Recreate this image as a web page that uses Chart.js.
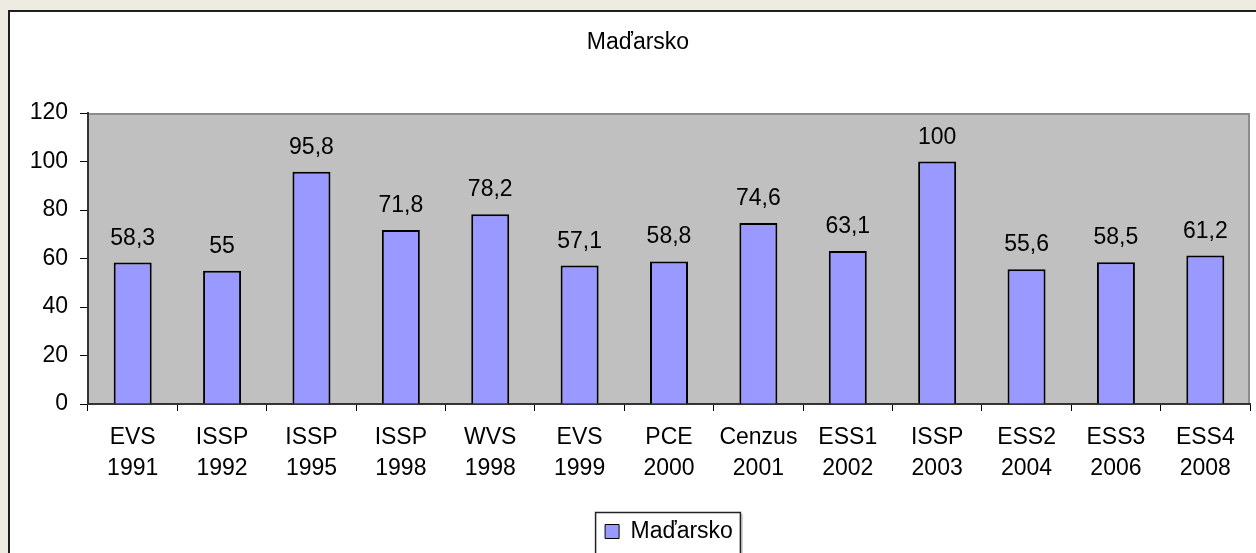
<!DOCTYPE html>
<html>
<head>
<meta charset="utf-8">
<script src="https://cdn.jsdelivr.net/npm/chart.js@4.4.1/dist/chart.umd.min.js"></script>
<style>
  html, body { margin: 0; padding: 0; background: #eeece2; }
  canvas { display: block; }
</style>
</head>
<body>
<canvas id="c" width="1256" height="553"></canvas>
<script>
const chartTitle = "Maďarsko";
const seriesName = "Maďarsko";
const categories = [
  ["EVS", "1991"], ["ISSP", "1992"], ["ISSP", "1995"], ["ISSP", "1998"],
  ["WVS", "1998"], ["EVS", "1999"], ["PCE", "2000"], ["Cenzus", "2001"],
  ["ESS1", "2002"], ["ISSP", "2003"], ["ESS2", "2004"], ["ESS3", "2006"],
  ["ESS4", "2008"]
];
const values = [58.3, 55, 95.8, 71.8, 78.2, 57.1, 58.8, 74.6, 63.1, 100, 55.6, 58.5, 61.2];
const yMin = 0, yMax = 120, yStep = 20;

const FONT = "'Liberation Sans', Arial, sans-serif";
const FS = 23;

const backgroundPlugin = {
  id: 'bg',
  beforeDraw(chart) {
    const ctx = chart.ctx;
    const a = chart.chartArea;
    ctx.save();
    ctx.fillStyle = '#eeece2';
    ctx.fillRect(0, 0, chart.width, chart.height);
    ctx.fillStyle = '#ffffff';
    ctx.fillRect(8, 10, chart.width + 20, chart.height + 20);
    ctx.strokeStyle = '#1e1e1e';
    ctx.lineWidth = 2;
    ctx.strokeRect(9, 11, chart.width + 20, chart.height + 20);
    // plot area
    ctx.fillStyle = '#c0c0c0';
    ctx.fillRect(a.left, a.top, a.right - a.left, a.bottom - a.top);
    ctx.strokeStyle = '#8c8c8c';
    ctx.lineWidth = 2;
    ctx.beginPath();
    ctx.moveTo(a.left, a.top + 1);
    ctx.lineTo(a.right - 1, a.top + 1);
    ctx.lineTo(a.right - 1, a.bottom);
    ctx.stroke();
    ctx.restore();
  }
};

const labelPlugin = {
  id: 'valueLabels',
  afterDatasetsDraw(chart) {
    const ctx = chart.ctx;
    const meta = chart.getDatasetMeta(0);
    ctx.save();
    ctx.font = FS + "px " + FONT;
    ctx.fillStyle = '#000';
    ctx.textAlign = 'center';
    ctx.textBaseline = 'alphabetic';
    meta.data.forEach((el, i) => {
      const txt = String(values[i]).replace('.', ',');
      ctx.fillText(txt, el.x, el.y - 18);
    });
    ctx.restore();
  },
  afterDraw(chart) {
    const lg = chart.legend;
    if (!lg || !lg.legendHitBoxes || !lg.legendHitBoxes.length) return;
    const hb = lg.legendHitBoxes[0];
    const ctx = chart.ctx;
    ctx.save();
    const l = hb.left - 10, t = 512, r = hb.left + hb.width + 7;
    ctx.strokeStyle = '#222';
    ctx.lineWidth = 1.5;
    ctx.strokeRect(l + 0.5, t + 0.5, r - l, 60);
    ctx.strokeStyle = '#999';
    ctx.lineWidth = 1;
    ctx.beginPath();
    ctx.moveTo(r + 2, t + 2);
    ctx.lineTo(r + 2, chart.height);
    ctx.stroke();
    ctx.restore();
  }
};

new Chart(document.getElementById('c'), {
  type: 'bar',
  data: {
    labels: categories,
    datasets: [{
      label: seriesName,
      data: values,
      backgroundColor: '#9999ff',
      borderColor: '#000000',
      borderWidth: 2,
      borderSkipped: 'bottom',
      categoryPercentage: 1.0,
      barPercentage: 0.425
    }]
  },
  options: {
    responsive: false,
    animation: false,
    devicePixelRatio: 1,
    layout: { padding: { left: 26, right: 6, top: 0, bottom: 0 } },
    plugins: {
      title: {
        display: true,
        text: chartTitle,
        color: '#000',
        font: { family: FONT, size: FS, weight: 'normal', lineHeight: 1.2 },
        padding: { top: 29, bottom: 56.4 }
      },
      legend: {
        display: true,
        position: 'bottom',
        fullSize: false,
        labels: {
          color: '#000',
          font: { family: FONT, size: FS },
          boxWidth: 14,
          boxHeight: 14,
          padding: 10,
          generateLabels(chart) {
            return [{
              text: seriesName,
              fillStyle: '#9999ff',
              strokeStyle: '#000',
              lineWidth: 1,
              datasetIndex: 0
            }];
          }
        }
      },
      tooltip: { enabled: false }
    },
    scales: {
      x: {
        offset: true,
        grid: {
          display: true,
          offset: true,
          drawOnChartArea: false,
          drawTicks: true,
          tickLength: 7,
          color: '#000',
          lineWidth: 1
        },
        border: { display: true, color: '#333', width: 2 },
        ticks: {
          color: '#000',
          font: { family: FONT, size: FS, lineHeight: 1.35 },
          padding: 11,
          maxRotation: 0,
          autoSkip: false
        },
        afterFit(axis) { axis.height = 106; }
      },
      y: {
        min: yMin,
        max: yMax,
        grid: {
          display: true,
          drawOnChartArea: false,
          drawTicks: true,
          tickLength: 8,
          color: '#000',
          lineWidth: 1
        },
        border: { display: true, color: '#333', width: 2 },
        ticks: {
          stepSize: yStep,
          color: '#000',
          font: { family: FONT, size: FS },
          padding: 12
        },
        afterFit(axis) { axis.width = 62; }
      }
    }
  },
  plugins: [backgroundPlugin, labelPlugin]
});
</script>
</body>
</html>
